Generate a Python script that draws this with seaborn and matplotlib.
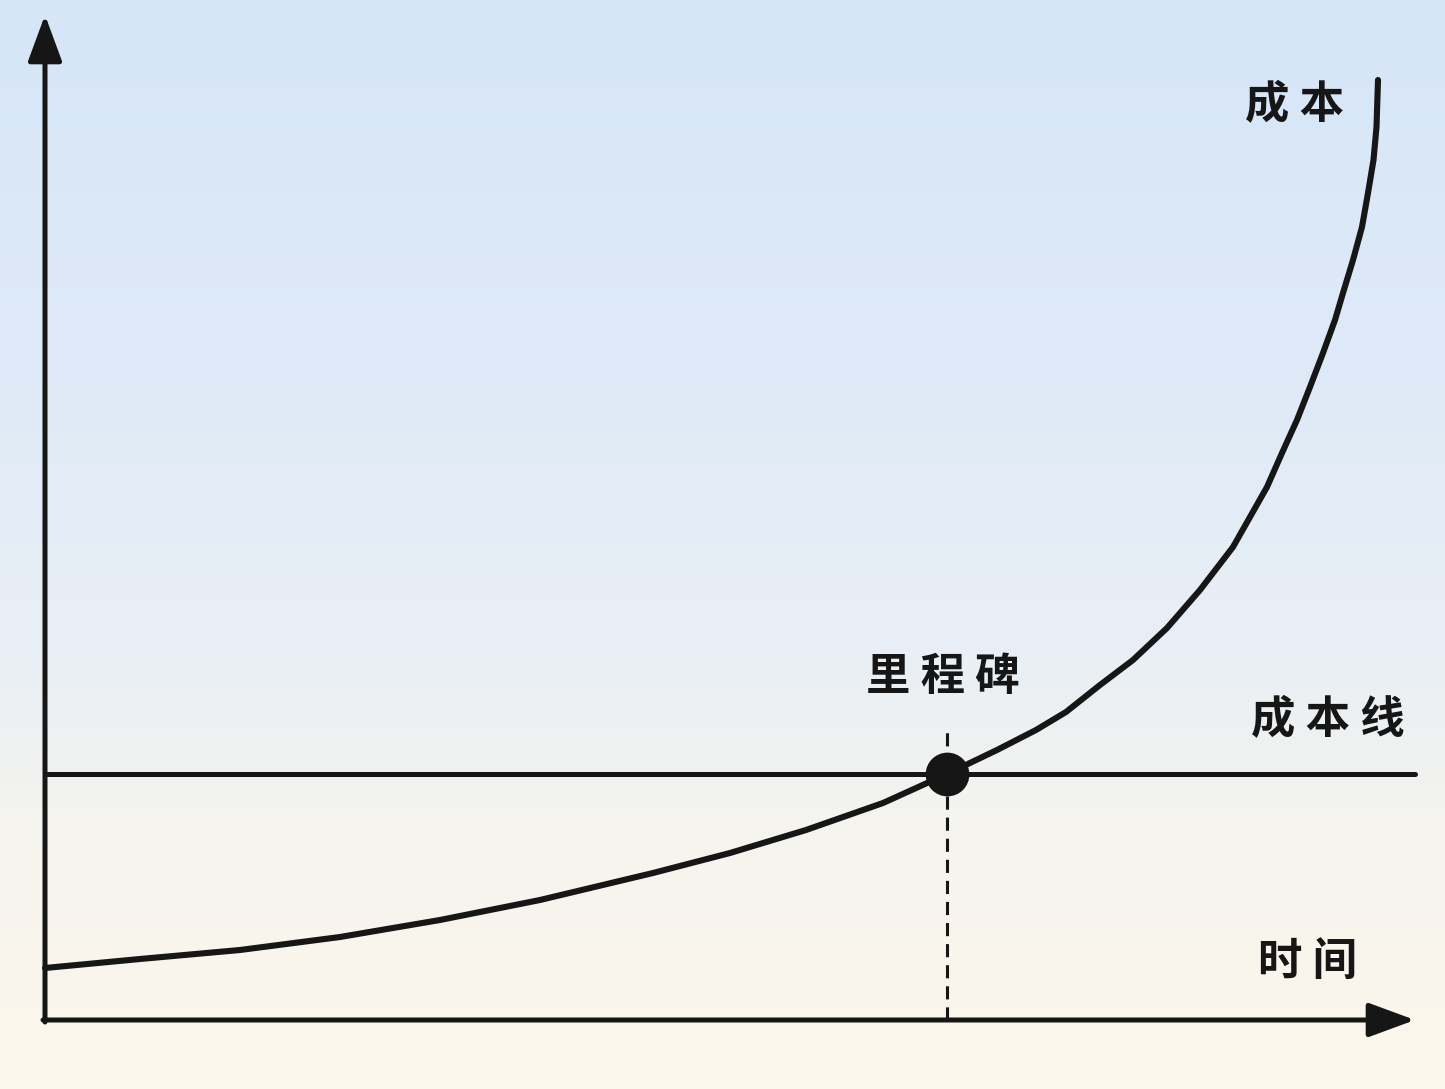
import numpy as np
import pandas as pd
import matplotlib
matplotlib.use("Agg")
import matplotlib.pyplot as plt
from matplotlib.colors import LinearSegmentedColormap
import seaborn as sns

# Cost curve (time, cost)
time = [0.00, 0.95, 1.95, 2.95, 3.95, 4.95, 6.08, 6.85, 7.61, 8.38,
        9.02, 9.52, 9.91, 10.21, 10.55, 10.88, 11.22, 11.55, 11.88, 12.22,
        12.37, 12.52, 12.65, 12.78, 12.90, 12.98, 13.08, 13.17, 13.23,
        13.285, 13.315, 13.33]
cost = [0.52, 0.61, 0.70, 0.83, 1.00, 1.20, 1.47, 1.67, 1.90, 2.17,
        2.46, 2.70, 2.90, 3.08, 3.35, 3.60, 3.92, 4.30, 4.73, 5.33,
        5.67, 6.00, 6.33, 6.67, 7.00, 7.27, 7.60, 7.93, 8.27,
        8.60, 8.93, 9.40]

# Flat cost line and the milestone where the curve crosses it
cost_line_t = [0.0, 13.7]
cost_line_c = [2.46, 2.46]
milestone_t = 9.02
milestone_c = 2.46
milestone_dash_top = 2.90

# Axis extents
x_tip = 13.7
y_tip = 10.05

labels = {
    "成 本": (12.50, 9.15),
    "成 本 线": (12.83, 3.00),
    "里 程 碑": (8.98, 3.43),
    "时 间": (12.63, 0.58),
}

sns.set_theme(style="white")
plt.rcParams["font.family"] = ["Noto Sans CJK SC", "DejaVu Sans"]

fig = plt.figure(figsize=(14.45, 10.89), dpi=100)
ax = fig.add_axes([0, 0, 1, 1])
ax.set_xlim(-0.45, 14.0)
ax.set_ylim(-0.69, 10.20)
ax.axis("off")

# Background gradient: light blue at top, cream at bottom
bg = LinearSegmentedColormap.from_list(
    "bg", [(0.0, "#d6e6f8"), (0.35, "#dfeaf7"), (0.60, "#e9eff5"),
           (0.78, "#f6f4ee"), (1.0, "#fdf7ec")])
grad = np.linspace(0, 1, 256).reshape(-1, 1)
ax.imshow(grad, cmap=bg, aspect="auto", extent=[-0.45, 14.0, -0.69, 10.20],
          origin="upper", zorder=0)

ink = "#161616"

curve = pd.DataFrame({"time": time, "cost": cost})
sns.lineplot(data=curve, x="time", y="cost", ax=ax, color=ink, lw=4.4,
             sort=False, zorder=3, solid_capstyle="round",
             solid_joinstyle="round")

sns.lineplot(x=cost_line_t, y=cost_line_c, ax=ax, color=ink, lw=3.6, zorder=2)

ax.plot([milestone_t, milestone_t], [0, milestone_dash_top], color=ink,
        lw=2.2, dashes=(4.3, 2.6), zorder=2)

sns.scatterplot(x=[milestone_t], y=[milestone_c], ax=ax, color=ink, s=850,
                edgecolor=ink, zorder=4)

# Axes with arrow heads
arrow = dict(arrowstyle="-|>,head_length=0.95,head_width=0.35", lw=3.6,
             color=ink, shrinkA=0, shrinkB=0, mutation_scale=30)
ax.annotate("", xy=(x_tip, 0), xytext=(-0.02, 0), arrowprops=arrow, zorder=5)
ax.annotate("", xy=(0, y_tip), xytext=(0, -0.02), arrowprops=arrow, zorder=5)

for txt, (tx, ty) in labels.items():
    ax.text(tx, ty, txt, ha="center", va="center", fontsize=32,
            fontweight="bold", color=ink, zorder=6)

fig.savefig("out.png", dpi=100)
